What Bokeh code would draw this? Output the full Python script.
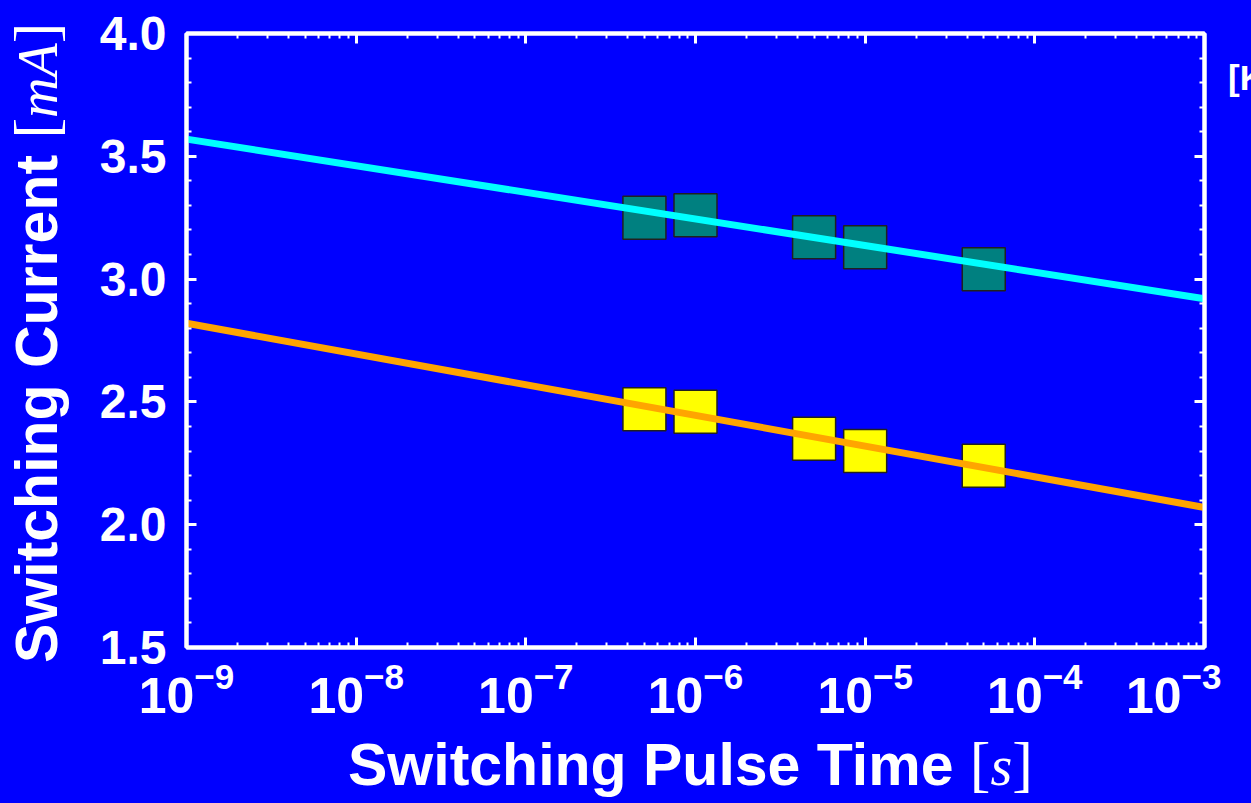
from bokeh.plotting import figure
from bokeh.layouts import row, column
from bokeh.models import (LogAxis, LinearAxis, Range1d, LogTicker, Div,
                          SingleIntervalTicker, PrintfTickFormatter,
                          CustomJSTickFormatter)
from bokeh.embed import file_html
from bokeh.resources import INLINE

# ---- data ----
pulse_time = [5e-7, 1e-6, 5e-6, 1e-5, 5e-5]
current_upper = [3.25, 3.26, 3.17, 3.13, 3.04]
current_lower = [2.47, 2.46, 2.35, 2.30, 2.24]
fit_time = [1e-9, 1e-3]
fit_upper = [3.57, 2.92]
fit_lower = [2.82, 2.07]
x_title = "Switching Pulse Time"
x_unit = "s"
y_title = "Switching Current"
y_unit = "mA"
side_note = "[K"

BG = "#0000FF"
WHITE = "#FFFFFF"
SANS = "Liberation Sans"
SERIF = "Liberation Serif"

# ---- geometry of the page ----
YDIV_W = 80          # strip holding the y title
RDIV_W = 30          # strip at right holding the side note
XDIV_H = 75          # strip holding the x title
PAGE_W, PAGE_H = 1251, 803
FIG_W = PAGE_W - YDIV_W - RDIV_W
FIG_H = PAGE_H - XDIV_H

fig = figure(width=FIG_W, height=FIG_H, x_axis_type="log",
             x_range=Range1d(1e-9, 1e-3), y_range=Range1d(1.5, 4.0),
             output_backend="svg", toolbar_location=None,
             min_border_left=106, min_border_right=17,
             min_border_top=33, min_border_bottom=FIG_H - 33 - 614)
fig.background_fill_color = BG
fig.border_fill_color = BG
fig.styles = {"background-color": BG}
fig.outline_line_color = WHITE
fig.outline_line_width = 4
fig.xgrid.visible = False
fig.ygrid.visible = False

bottom_ax = fig.below[0]
left_ax = fig.left[0]

xt = LogTicker(desired_num_ticks=7, num_minor_ticks=10)
yt = SingleIntervalTicker(interval=0.5, num_minor_ticks=5)
bottom_ax.ticker = xt
left_ax.ticker = yt
left_ax.formatter = PrintfTickFormatter(format="%.1f")

blank = CustomJSTickFormatter(code="return ''")
top_ax = LogAxis(ticker=xt, formatter=blank)
right_ax = LinearAxis(ticker=yt, formatter=blank)
fig.add_layout(top_ax, "above")
fig.add_layout(right_ax, "right")

for ax in [bottom_ax, left_ax, top_ax, right_ax]:
    ax.axis_line_color = WHITE
    ax.axis_line_width = 4
    ax.major_tick_line_color = WHITE
    ax.major_tick_line_width = 3
    ax.minor_tick_line_color = WHITE
    ax.minor_tick_line_width = 2
    ax.major_tick_in = 10
    ax.major_tick_out = 0
    ax.minor_tick_in = 5
    ax.minor_tick_out = 0
    ax.major_label_text_color = WHITE
    ax.major_label_text_font = SANS
    ax.major_label_text_font_style = "bold"

for ax in [top_ax, right_ax]:
    ax.major_label_text_font_size = "1px"
    ax.major_label_standoff = 0

bottom_ax.major_label_text_font_size = "50px"
bottom_ax.major_label_standoff = 14
left_ax.major_label_text_font_size = "48px"
left_ax.major_label_standoff = 20

# markers first, fitted lines on top
fig.scatter(pulse_time, current_upper, marker="square", size=43,
            fill_color="#008080", line_color="#202020", line_width=1.5)
fig.scatter(pulse_time, current_lower, marker="square", size=43,
            fill_color="#FFFF00", line_color="#202020", line_width=1.5)
fig.line(fit_time, fit_upper, line_color="#00FFFF", line_width=7)
fig.line(fit_time, fit_lower, line_color="#FFA500", line_width=7)


def unit_html(unit):
    br = (f"font-family:'{SERIF}';font-weight:normal;font-style:normal;"
          "font-size:62px;line-height:0;")
    it = (f"font-family:'{SERIF}';font-weight:normal;font-style:italic;"
          "font-size:56px;line-height:0;")
    return (f"<span style=\"{br}\">[</span><span style=\"{it}\">{unit}</span>"
            f"<span style=\"{br}\">]</span>")


base = (f"color:{WHITE};font-family:'{SANS}';font-weight:bold;"
        "white-space:nowrap;box-sizing:border-box;margin:0;")

# y title: vertical, reading upward
y_html = (f"<div style=\"{base}width:{YDIV_W}px;height:{PAGE_H}px;"
          "writing-mode:vertical-rl;text-orientation:sideways;"
          "transform:rotate(180deg);padding-top:140px;padding-right:8px;"
          f"font-size:59px;line-height:59px;\">{y_title} {unit_html(y_unit)}</div>")
ydiv = Div(text=y_html, width=YDIV_W, height=PAGE_H, margin=0,
           styles={"background-color": BG})

# x title (baseline at page y = 786)
x_lh = 59
x_pad_top = (786 - FIG_H) - round(0.8465 * x_lh)
x_html = (f"<div style=\"{base}width:{FIG_W}px;height:{XDIV_H}px;"
          f"padding-left:{348 - YDIV_W}px;padding-top:{x_pad_top}px;"
          f"font-size:59px;line-height:{x_lh}px;\">"
          f"{x_title} {unit_html(x_unit)}</div>")
xdiv = Div(text=x_html, width=FIG_W, height=XDIV_H, margin=0,
           styles={"background-color": BG})

# side note clipped by the right edge of the picture
r_html = (f"<div style=\"{base}width:{RDIV_W}px;height:{PAGE_H}px;"
          "padding-left:7px;padding-top:60px;font-size:35px;line-height:35px;"
          f"\">{side_note}</div>")
rdiv = Div(text=r_html, width=RDIV_W, height=PAGE_H, margin=0,
           styles={"background-color": BG})

p = row(ydiv, column(fig, xdiv, spacing=0), rdiv, spacing=0)

open("out.html", "w").write(file_html(p, INLINE))
